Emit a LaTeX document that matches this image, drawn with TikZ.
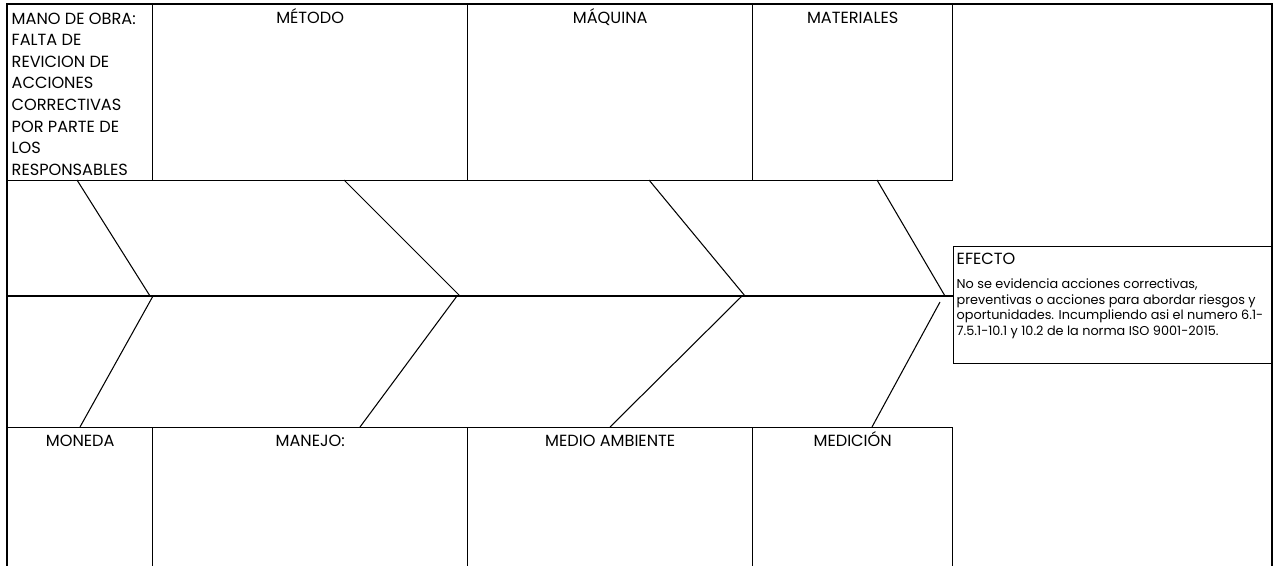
\documentclass[tikz,border=0pt]{standalone}
\usepackage{fontspec}
\setmainfont{Poppins}
\begin{document}
\begin{tikzpicture}[x=0.02cm, y=-0.02cm, line width=0.8pt,
  box/.style={draw, inner sep=0pt, anchor=north west},
  lbl/.style={anchor=base, inner sep=0pt, font=\fontsize{9.2}{12.3}\selectfont},
  bone/.style={line width=0.6pt}]
  \useasboundingbox (0,0) rectangle (1275,565);
  \draw (7,4) rectangle (1272,580);
  % causas de arriba
  \node[box, minimum width=2.9cm, minimum height=3.52cm] (mano) at (7,4) {};
  \node[box, minimum width=6.3cm, minimum height=3.52cm] (metodo) at (152,4) {};
  \node[box, minimum width=5.7cm, minimum height=3.52cm] (maquina) at (467,4) {};
  \node[box, minimum width=4cm, minimum height=3.52cm] (materiales) at (752,4) {};
  % causas de abajo
  \node[box, minimum width=2.9cm, minimum height=3.2cm] (moneda) at (7,427) {};
  \node[box, minimum width=6.3cm, minimum height=3.2cm] (manejo) at (152,427) {};
  \node[box, minimum width=5.7cm, minimum height=3.2cm] (medio) at (467,427) {};
  \node[box, minimum width=4cm, minimum height=3.2cm] (medicion) at (752,427) {};
  % efecto
  \node[box, minimum width=6.38cm, minimum height=2.34cm] (efecto) at (953,246) {};
  % textos
  \node[lbl, anchor=north west, align=left] (tmano) at ([shift={(4,8)}]mano.north west)
    {MANO DE OBRA:\\FALTA DE\\REVICION DE\\ACCIONES\\CORRECTIVAS\\POR PARTE DE\\LOS\\RESPONSABLES};
  \node[lbl] (tmetodo) at ([yshift=-0.4cm]metodo.north) {MÉTODO};
  \node[lbl] (tmaquina) at ([yshift=-0.4cm]maquina.north) {MÁQUINA};
  \node[lbl] (tmateriales) at ([yshift=-0.4cm]materiales.north) {MATERIALES};
  \node[lbl] (tmoneda) at ([yshift=-0.38cm]moneda.north) {MONEDA};
  \node[lbl] (tmanejo) at ([yshift=-0.38cm]manejo.north) {MANEJO:};
  \node[lbl] (tmedio) at ([yshift=-0.38cm]medio.north) {MEDIO AMBIENTE};
  \node[lbl] (tmedicion) at ([yshift=-0.38cm]medicion.north) {MEDICIÓN};
  \node[lbl, anchor=north west] (tefecto) at ([shift={(3,6)}]efecto.north west) {EFECTO};
  \node[lbl, anchor=north west, align=left, font=\fontsize{7.3}{8.9}\selectfont]
    (texto) at ([shift={(3,32)}]efecto.north west)
    {No se evidencia acciones correctivas,\\
     preventivas o acciones para abordar riesgos y\\
     oportunidades. Incumpliendo asi el numero 6.1-\\
     7.5.1-10.1 y 10.2 de la norma ISO 9001-2015.};
  % espina
  \coordinate (cola) at (7,296);
  \coordinate (cabeza) at (953,296);
  \draw (cola) -- (cabeza);
  \coordinate (t1) at (77,180);  \coordinate (s1) at (150,296);
  \coordinate (t2) at (344,180); \coordinate (s2) at (460,296);
  \coordinate (t3) at (649,180); \coordinate (s3) at (745,296);
  \coordinate (t4) at (877,180); \coordinate (s4) at (945,296);
  \coordinate (u1) at (153,296); \coordinate (b1) at (80,427);
  \coordinate (u2) at (457,296); \coordinate (b2) at (360,427);
  \coordinate (u3) at (742,296); \coordinate (b3) at (610,427);
  \coordinate (u4) at (940,302); \coordinate (b4) at (872,427);
  \foreach \i in {1,...,4} {
    \draw[bone] (t\i) -- (s\i);
    \draw[bone] (u\i) -- (b\i);
  }
\end{tikzpicture}
\end{document}
